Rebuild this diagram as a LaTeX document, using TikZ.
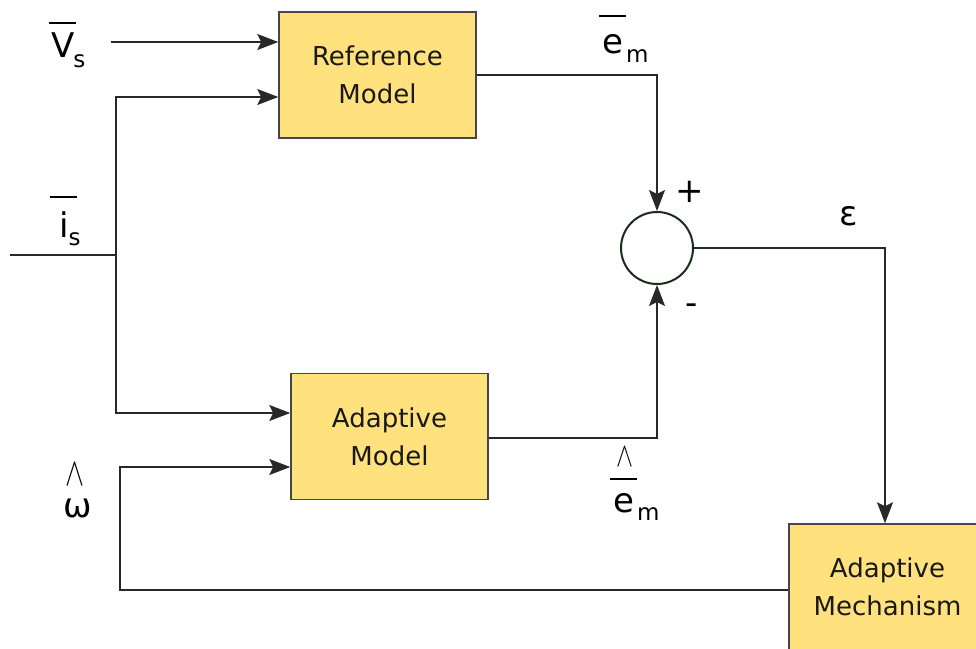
\documentclass[tikz,border=0pt]{standalone}
\usepackage{fontspec}
\usepackage{graphicx}
\setmainfont{DejaVu Sans}
\usetikzlibrary{arrows.meta,calc}
\definecolor{boxfill}{RGB}{255,225,125}
\definecolor{boxline}{RGB}{70,70,70}
\definecolor{linecol}{RGB}{40,40,40}
\definecolor{sumline}{RGB}{25,45,25}
\newcommand{\subf}{\fontsize{23}{23}\selectfont}
\newcommand{\lblf}{\fontsize{34}{34}\selectfont}
\newcommand{\barlbl}[5]{\setbox0\hbox{#2}\hbox{\rlap{\hbox to \wd0{\hss\raisebox{#1}{\rule{27pt}{1.8pt}}\hss}}\box0\kern#3\raisebox{-#4}{\subf #5}}}
\newcommand{\hatsym}[2]{\resizebox{#1}{#2}{$\wedge$}}
\begin{document}
\begin{tikzpicture}[x=1pt,y=-1pt,
  block/.style={draw=boxline,line width=1.5pt,fill=boxfill,minimum width=197pt,minimum height=126pt,inner sep=0pt,align=center,font=\fontsize{26}{38}\selectfont,text=black!90},
  conn/.style={draw=linecol,line width=1.5pt},
  arr/.style={conn,-{Stealth[length=21pt,width=16pt,inset=4pt]}},
  lbl/.style={inner sep=0pt,font=\lblf},
  hatlbl/.style={inner sep=0pt}]
\useasboundingbox (0,0) rectangle (976,648);
\clip (0,0) rectangle (976,648);
\node[block] (ref) at (377.5,75) {Reference\\Model};
\node[block] (am) at (389.5,436.5) {Adaptive\\Model};
\node[block] (mech) at (887.5,587) {Adaptive\\Mechanism};
\node[circle,draw=sumline,line width=2pt,minimum size=72pt,inner sep=0pt,fill=white] (sum) at (657,248) {};
\coordinate (vsin) at (111,42);
\coordinate (isin) at (10,255);
\coordinate (isj) at (116,255);
\coordinate (wc) at (120,467);
\draw[arr] (vsin) -- (vsin -| ref.west);
\draw[conn] (isin) -- (isj);
\draw[arr] (isj) |- ($(ref.west)+(0,22)$);
\draw[arr] (isj) |- ($(am.west)+(0,-23.5)$);
\draw[arr] ($(mech.west)+(0,3)$) -| (wc) -- (wc -| am.west);
\draw[arr] (ref.east) -| (sum.north);
\draw[arr] ($(am.east)+(0,1.5)$) -| (sum.south);
\draw[arr] (sum.east) -| ($(mech.north)+(-2.5,0)$);
\node[lbl,anchor=base west] (vs) at (51,57) {\barlbl{33pt}{V}{-1pt}{10pt}{s}};
\node[lbl,anchor=base west] (is) at (59,237) {\barlbl{39pt}{i}{0pt}{8pt}{s}};
\node[lbl,anchor=base west] (em) at (602,53) {\barlbl{36pt}{e}{3pt}{9pt}{m}};
\node[lbl,anchor=base west] (emh) at (613,512) {\barlbl{32pt}{e}{3pt}{8pt}{m}};
\node[hatlbl] (emhat) at (625,457) {\hatsym{17pt}{19pt}};
\node[lbl,anchor=base] (w) at (78,517) {ω};
\node[hatlbl] (what) at (75,474.5) {\hatsym{19pt}{22pt}};
\node[lbl,anchor=base] (eps) at (849,225) {ε};
\node[lbl] (plus) at (690,192) {+};
\node[lbl,anchor=base] (minus) at (692,314) {-};
\end{tikzpicture}
\end{document}
